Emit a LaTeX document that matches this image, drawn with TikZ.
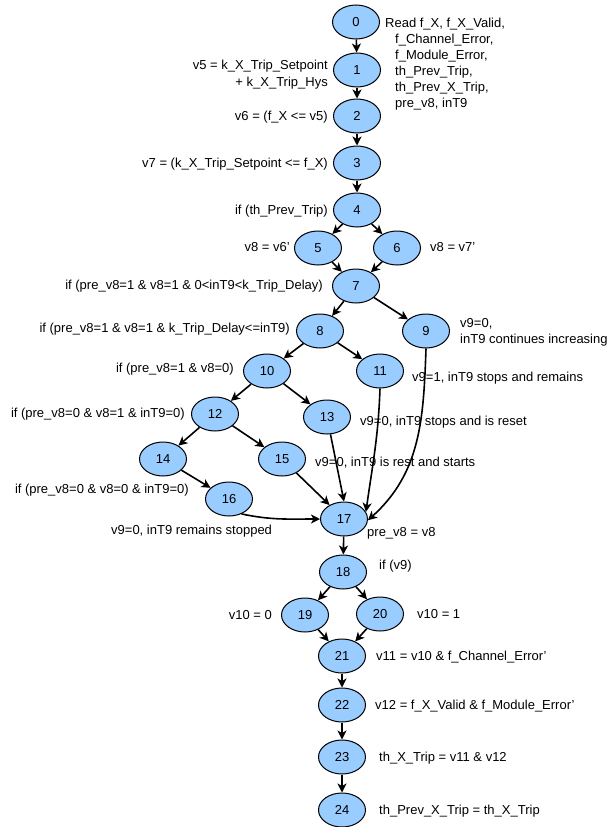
\documentclass[tikz,border=0pt]{standalone}
\usepackage{fontspec}
\setmainfont{Liberation Sans}
\usetikzlibrary{shapes.geometric,arrows.meta}
\tikzset{
  st/.style={ellipse,draw=black,line width=1pt,fill=stnode,minimum width=47pt,minimum height=34pt,inner sep=0pt,font=\fontsize{13}{15}\selectfont},
  lbl/.style={inner sep=0pt,font=\fontsize{13}{15}\selectfont},
  arr/.style={line width=1.6pt,-{Stealth[length=9pt,width=9pt,inset=2.5pt]}}
}
\definecolor{stnode}{HTML}{99CCFF}
\begin{document}
\begin{tikzpicture}[x=1pt,y=-1pt]
\useasboundingbox (0,0) rectangle (611,827);
% nodes
\node[st] (n0) at (356,22) {0};
\node[st] (n1) at (357,70) {1};
\node[st] (n2) at (357,116) {2};
\node[st] (n3) at (357,163) {3};
\node[st] (n4) at (357,210) {4};
\node[st] (n5) at (318,248) {5};
\node[st] (n6) at (397,248) {6};
\node[st] (n7) at (356,286) {7};
\node[st] (n8) at (320,331) {8};
\node[st] (n9) at (426,331) {9};
\node[st] (n10) at (267,371) {10};
\node[st] (n11) at (380,371) {11};
\node[st] (n12) at (215,414) {12};
\node[st] (n13) at (327,417) {13};
\node[st] (n14) at (163,459) {14};
\node[st] (n15) at (282,459) {15};
\node[st] (n16) at (229,499) {16};
\node[st] (n17) at (344,519) {17};
\node[st] (n18) at (343,572) {18};
\node[st] (n19) at (305,615) {19};
\node[st] (n20) at (380,614) {20};
\node[st] (n21) at (342,656) {21};
\node[st] (n22) at (342,705) {22};
\node[st] (n23) at (342,757) {23};
\node[st] (n24) at (342,810) {24};
% labels
\node[lbl,anchor=base west] (t0a) at (385,27.5) {Read f\_X, f\_X\_Valid,};
\node[lbl,anchor=base west] (t0b) at (395,43) {f\_Channel\_Error,};
\node[lbl,anchor=base west] (t0c) at (395,59) {f\_Module\_Error,};
\node[lbl,anchor=base west] (t0d) at (395,75) {th\_Prev\_Trip,};
\node[lbl,anchor=base west] (t0e) at (395,91) {th\_Prev\_X\_Trip,};
\node[lbl,anchor=base west] (t0f) at (395,107) {pre\_v8, inT9};
\node[lbl,anchor=base east] (t1a) at (328,69.5) {v5 = k\_X\_Trip\_Setpoint};
\node[lbl,anchor=base east] (t1b) at (328,86) {+ k\_X\_Trip\_Hys};
\node[lbl,anchor=base east] (t2) at (328,120.5) {v6 = (f\_X <= v5)};
\node[lbl,anchor=base east] (t3) at (328,167.5) {v7 = (k\_X\_Trip\_Setpoint <= f\_X)};
\node[lbl,anchor=base east] (t4) at (328,214.5) {if (th\_Prev\_Trip)};
\node[lbl,anchor=base east] (t5) at (290,251.5) {v8 = v6'};
\node[lbl,anchor=base west] (t6) at (430,251.5) {v8 = v7'};
\node[lbl,anchor=base east] (t7) at (323,289.5) {if (pre\_v8=1 \& v8=1 \& 0<inT9<k\_Trip\_Delay)};
\node[lbl,anchor=base east] (t8) at (290,332.5) {if (pre\_v8=1 \& v8=1 \& k\_Trip\_Delay<=inT9)};
\node[lbl,anchor=base west] (t9a) at (460,327.5) {v9=0,};
\node[lbl,anchor=base west] (t9b) at (460,343.5) {inT9 continues increasing};
\node[lbl,anchor=base east] (t10) at (234,372.5) {if (pre\_v8=1 \& v8=0)};
\node[lbl,anchor=base west] (t11) at (412,381.5) {v9=1, inT9 stops and remains};
\node[lbl,anchor=base east] (t12) at (185,417.5) {if (pre\_v8=0 \& v8=1 \& inT9=0)};
\node[lbl,anchor=base west] (t13) at (360,425.5) {v9=0, inT9 stops and is reset};
\node[lbl,anchor=base west] (t15) at (315,466.5) {v9=0, inT9 is rest and starts};
\node[lbl,anchor=base east] (t14) at (189,493.5) {if (pre\_v8=0 \& v8=0 \& inT9=0)};
\node[lbl,anchor=base west] (t16) at (111,534.5) {v9=0, inT9 remains stopped};
\node[lbl,anchor=base west] (t17) at (367,536.5) {pre\_v8 = v8};
\node[lbl,anchor=base west] (t18) at (379,569.5) {if (v9)};
\node[lbl,anchor=base east] (t19) at (272,619.5) {v10 = 0};
\node[lbl,anchor=base west] (t20) at (417,618.5) {v10 = 1};
\node[lbl,anchor=base west] (t21) at (376,660.5) {v11 = v10 \& f\_Channel\_Error'};
\node[lbl,anchor=base west] (t22) at (375,709.5) {v12 = f\_X\_Valid \& f\_Module\_Error'};
\node[lbl,anchor=base west] (t23) at (379,761.5) {th\_X\_Trip = v11 \& v12};
\node[lbl,anchor=base west] (t24) at (379,814.5) {th\_Prev\_X\_Trip = th\_X\_Trip};
% edges
\draw[arr] (n0) -- (n1);
\draw[arr] (n1) -- (n2);
\draw[arr] (n2) -- (n3);
\draw[arr] (n3) -- (n4);
\draw[arr] (n4) -- (n5);
\draw[arr] (n4) -- (n6);
\draw[arr] (n5) -- (n7);
\draw[arr] (n6) -- (n7);
\draw[arr] (n7) -- (n8);
\draw[arr] (n7) -- (n9);
\draw[arr] (n8) -- (n10);
\draw[arr] (n8) -- (n11);
\draw[arr] (n10) -- (n12);
\draw[arr] (n10) -- (n13);
\draw[arr] (n12) -- (n14);
\draw[arr] (n12) -- (n15);
\draw[arr] (n14) -- (n16);
\draw[arr] (n15) -- (n17);
\draw[arr] (n13) -- (n17.north);
\draw[arr] (n16.-50) to[out=-12,in=180] (n17.west);
\draw[arr] (n11.south) to[out=-92,in=82] (n17.18);
\draw[arr] (n9.south) to[out=-92,in=42] (n17.-3);
\draw[arr] (n17) -- (n18);
\draw[arr] (n18) -- (n19);
\draw[arr] (n18) -- (n20);
\draw[arr] (n19) -- (n21);
\draw[arr] (n20) -- (n21);
\draw[arr] (n21) -- (n22);
\draw[arr] (n22) -- (n23);
\draw[arr] (n23) -- (n24);
\end{tikzpicture}
\end{document}
